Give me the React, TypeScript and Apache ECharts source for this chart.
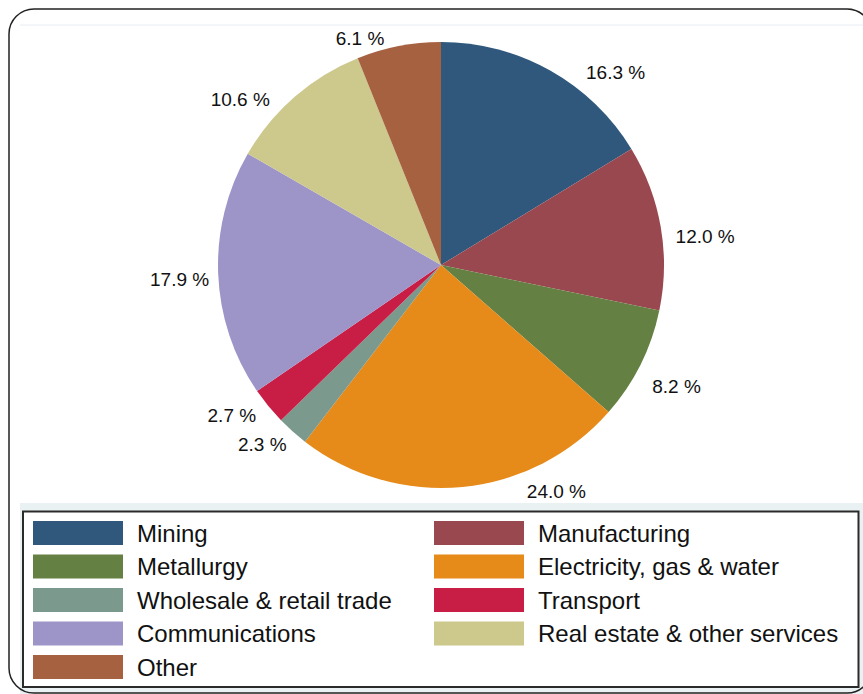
import React, { useEffect, useRef } from "react";
import * as echarts from "echarts";

const categories = [
  "Mining",
  "Manufacturing",
  "Metallurgy",
  "Electricity, gas & water",
  "Wholesale & retail trade",
  "Transport",
  "Communications",
  "Real estate & other services",
  "Other",
];
const shares = [16.3, 12.0, 8.2, 24.0, 2.3, 2.7, 17.9, 10.6, 6.1];
const sliceColors = [
  "#2f587c",
  "#9a4850",
  "#648042",
  "#e68a19",
  "#7b998d",
  "#c81e46",
  "#9d95c8",
  "#cdc88c",
  "#a66141",
];
const leftLegend = ["Mining", "Metallurgy", "Wholesale & retail trade", "Communications", "Other"];
const rightLegend = ["Manufacturing", "Electricity, gas & water", "Transport", "Real estate & other services"];

const FONT = "'Liberation Sans', Arial, Helvetica, sans-serif";

// small label nudges (px) relative to ECharts' outside label placement
const labelNudge: [number, number][] = [
  [25, 12],
  [-2, 11],
  [-4, 17],
  [58, -7],
  [7, 4],
  [2, 2],
  [8, 5],
  [-12, 12],
  [-7, 4],
];

export default function App() {
  const ref = useRef<HTMLDivElement>(null);
  useEffect(() => {
    if (!ref.current) return;
    const chart = echarts.init(ref.current, undefined, { renderer: "svg" });
    const legendCommon = {
      orient: "vertical" as const,
      itemWidth: 90,
      itemHeight: 24,
      itemGap: 9.5,
      icon: "rect",
      selectedMode: false,
      padding: 0,
      textStyle: {
        fontFamily: FONT,
        fontSize: 24,
        color: "#111",
        lineHeight: 24,
        padding: [0, 0, 0, 9],
      },
    };
    chart.setOption({
      animation: false,
      backgroundColor: "#ffffff",
      graphic: [
        {
          type: "rect",
          z: -10,
          shape: { x: 20, y: 503, width: 843, height: 191 },
          style: { fill: "#eaf1f3" },
        },
        {
          type: "rect",
          z: -9,
          shape: { x: 23, y: 511.5, width: 835.5, height: 175.5 },
          style: { fill: "#ffffff", stroke: "#2a2a2a", lineWidth: 2 },
        },
        {
          type: "line",
          z: -9,
          shape: { x1: 20, y1: 25, x2: 863, y2: 25 },
          style: { stroke: "#e8edf2", lineWidth: 1 },
        },
        {
          type: "rect",
          z: 100,
          shape: { x: 9, y: 9, width: 863, height: 684, r: 25 },
          style: { fill: "none", stroke: "#222", lineWidth: 1.5 },
        },
      ],
      legend: [
        { ...legendCommon, left: 33, top: 521, data: leftLegend },
        { ...legendCommon, left: 434, top: 521, data: rightLegend },
      ],
      series: [
        {
          type: "pie",
          center: [441, 265],
          radius: 223,
          startAngle: 90,
          clockwise: true,
          avoidLabelOverlap: false,
          itemStyle: { borderWidth: 0 },
          label: {
            show: true,
            position: "outside",
            fontFamily: FONT,
            fontSize: 19,
            color: "#111",
            formatter: (p: any) => `${Number(p.value).toFixed(1)} %`,
          },
          labelLine: { show: false, length: 12, length2: 0 },
          labelLayout: (p: any) => {
            const n = labelNudge[p.dataIndex] || [0, 0];
            return { dx: n[0], dy: n[1] };
          },
          emphasis: { disabled: true },
          data: categories.map((name, i) => ({
            name,
            value: shares[i],
            itemStyle: { color: sliceColors[i] },
          })),
        },
      ],
    });
    return () => chart.dispose();
  }, []);
  return (
    <div
      ref={ref}
      style={{ position: "absolute", left: 0, top: 0, width: 863, height: 694 }}
    />
  );
}
